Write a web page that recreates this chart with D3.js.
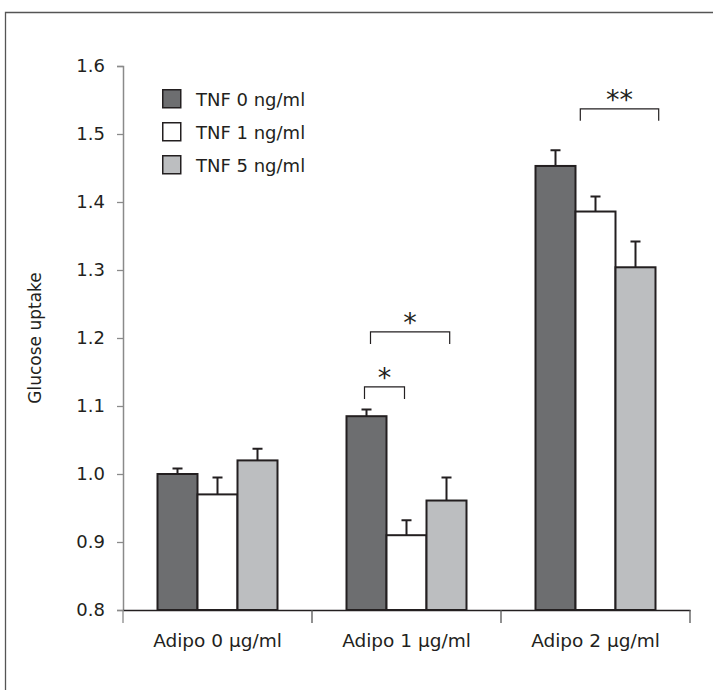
<!DOCTYPE html>
<html>
<head>
<meta charset="utf-8">
<script src="https://cdn.jsdelivr.net/npm/d3@7"></script>
<style>
  body { margin: 0; background: #fff; }
  svg { display: block; }
  text { font-family: "DejaVu Sans", "Open Sans", sans-serif; fill: #231f20; }
</style>
</head>
<body>
<div id="chart"></div>
<script>
// data
const categories = ["Adipo 0 \u00b5g/ml", "Adipo 1 \u00b5g/ml", "Adipo 2 \u00b5g/ml"];
const seriesNames = ["TNF 0 ng/ml", "TNF 1 ng/ml", "TNF 5 ng/ml"];
const seriesColors = ["#6d6e70", "#ffffff", "#bcbec0"];
const means = [
  [1.000, 0.970, 1.020],
  [1.085, 0.910, 0.961],
  [1.453, 1.386, 1.304]
];
const errors = [
  [0.008, 0.025, 0.017],
  [0.010, 0.022, 0.034],
  [0.023, 0.022, 0.038]
];
const yTicks = [0.8, 0.9, 1.0, 1.1, 1.2, 1.3, 1.4, 1.5, 1.6];
// significance brackets: group, start/end in bar widths from the group's left edge, label, height
const brackets = [
  {group: 1, from: 0.6, to: 2.58, label: "*", level: 1.209},
  {group: 1, from: 0.45, to: 1.45, label: "*", level: 1.128},
  {group: 2, from: 1.12, to: 3.08, label: "**", level: 1.537}
];

const config = {width: 713, height: 690, top: 66, left: 123, bottom: 80, right: 23};
const barW = 40;

const svg = d3.select("#chart").append("svg")
  .attr("width", config.width)
  .attr("height", config.height);

// outer frame (runs off the right and bottom edge)
svg.append("path")
  .attr("d", "M5.5,700V12.5H720")
  .attr("fill", "none")
  .attr("stroke", "#555")
  .attr("stroke-width", 1.3);

let y = d3.scaleLinear()
  .domain([0.8, 1.6])
  .range([config.height - config.bottom, config.top]);

let x = d3.scaleBand()
  .domain(categories)
  .range([config.left, config.width - config.right]);

let xSub = d3.scaleBand()
  .domain(d3.range(seriesNames.length))
  .range([0, barW * seriesNames.length]);

let groupLeft = c => x(c) + (x.bandwidth() - barW * seriesNames.length) / 2;

// y axis
let yAxis = svg.append("g")
  .attr("transform", `translate(${config.left},0)`)
  .call(d3.axisLeft(y).tickValues(yTicks).tickFormat(d3.format(".1f")).tickSizeOuter(0).tickSize(6).tickPadding(12));
yAxis.select(".domain").attr("stroke", "#8a8a8a").attr("stroke-width", 1.5);
yAxis.selectAll(".tick line").attr("stroke", "#8a8a8a").attr("stroke-width", 1.3);
yAxis.selectAll("text").attr("font-size", 18).attr("font-family", null).style("fill", "#231f20");
yAxis.attr("font-family", null);

// x axis
let xAxis = svg.append("g")
  .attr("transform", `translate(0,${y(0.8)})`)
  .call(d3.axisBottom(x).tickSize(0).tickPadding(24));
xAxis.attr("font-family", null);
xAxis.select(".domain").attr("stroke", "#231f20").attr("stroke-width", 1.3);
xAxis.selectAll("text").attr("font-size", 18.5).style("fill", "#231f20");
// ticks on band boundaries
let bounds = categories.map(c => x(c)).concat([x.range()[1]]);
xAxis.selectAll(".bound")
  .data(bounds)
  .join("line")
  .attr("class", "bound")
  .attr("x1", d => d).attr("x2", d => d)
  .attr("y1", 0).attr("y2", 13)
  .attr("stroke", (d, i) => i === 0 ? "#8a8a8a" : "#555")
  .attr("stroke-width", 1.3);

// bars
let groups = svg.append("g")
  .selectAll("g")
  .data(categories)
  .join("g")
  .attr("transform", d => `translate(${groupLeft(d)},0)`);

groups.each(function(cat, gi) {
  let g = d3.select(this);
  let rows = means[gi].map((v, si) => ({v: v, e: errors[gi][si], si: si}));
  // error bars first, under the bar outline
  g.selectAll(".err")
    .data(rows)
    .join("path")
    .attr("class", "err")
    .attr("d", d => {
      let cx = xSub(d.si) + xSub.bandwidth() / 2;
      return `M${cx},${y(d.v)}V${y(d.v + d.e)}M${cx - 5},${y(d.v + d.e)}H${cx + 5}`;
    })
    .attr("fill", "none")
    .attr("stroke", "#231f20")
    .attr("stroke-width", 2);
  g.selectAll("rect")
    .data(rows)
    .join("rect")
    .attr("x", d => xSub(d.si))
    .attr("y", d => y(d.v))
    .attr("width", xSub.bandwidth())
    .attr("height", d => y(0.8) - y(d.v))
    .attr("fill", d => seriesColors[d.si])
    .attr("stroke", "#231f20")
    .attr("stroke-width", 2);
});

// significance brackets
svg.append("g")
  .selectAll("g")
  .data(brackets)
  .join("g")
  .each(function(b) {
    let g = d3.select(this);
    let off = groupLeft(categories[b.group]);
    let x1 = off + b.from * barW;
    let x2 = off + b.to * barW;
    let yy = y(b.level);
    g.append("path")
      .attr("d", `M${x1},${yy + 12}V${yy}H${x2}V${yy + 12}`)
      .attr("fill", "none")
      .attr("stroke", "#231f20")
      .attr("stroke-width", 1.2);
    g.append("text")
      .attr("x", (x1 + x2) / 2)
      .attr("y", yy)
      .attr("text-anchor", "middle")
      .attr("font-size", 27)
      .text(b.label);
  });

// legend
let legend = svg.append("g")
  .attr("transform", "translate(162,89)")
  .selectAll("g")
  .data(seriesNames)
  .join("g")
  .attr("transform", (d, i) => `translate(0,${i * 33})`);
legend.append("rect")
  .attr("x", 0.75).attr("y", 0.75)
  .attr("width", 18).attr("height", 18)
  .attr("fill", (d, i) => seriesColors[i])
  .attr("stroke", "#231f20")
  .attr("stroke-width", 1.5);
legend.append("text")
  .attr("x", 34).attr("y", 17)
  .attr("font-size", 18)
  .text(d => d);

// y label
svg.append("text")
  .attr("transform", `translate(41,${(y(0.8) + y(1.6)) / 2}) rotate(-90)`)
  .attr("text-anchor", "middle")
  .attr("font-size", 17)
  .text("Glucose uptake");
</script>
</body>
</html>
